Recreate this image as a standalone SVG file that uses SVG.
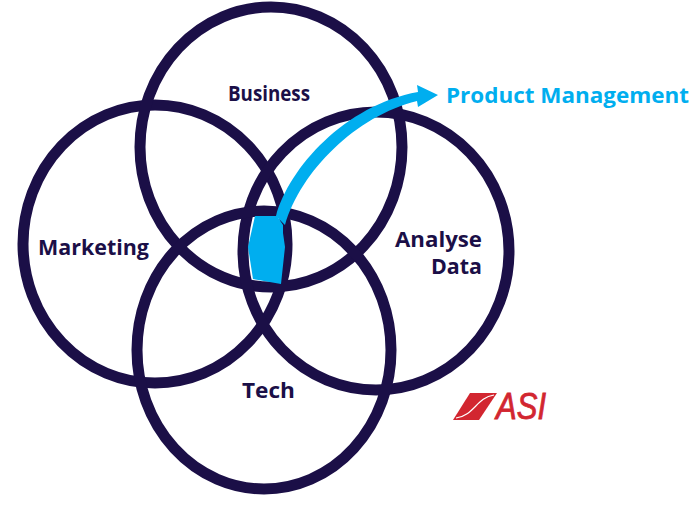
<svg xmlns="http://www.w3.org/2000/svg" width="700" height="508" viewBox="0 0 700 508">
<style>
.c{fill:none;stroke:#1b0f47;stroke-width:11}
.t{font-family:"Open Sans","Noto Sans",sans-serif;font-weight:700;font-size:21.5px;fill:#1b0f47}
.b{fill:#00aeef}
</style>
<rect width="700" height="508" fill="#fff"/>
<g id="marketing"><ellipse class="c" cx="155" cy="244" rx="132" ry="139"/><text class="t" x="38" y="255" textLength="111" lengthAdjust="spacingAndGlyphs">Marketing</text></g>
<g id="business"><ellipse class="c" cx="271" cy="147" rx="131" ry="140"/><text class="t" x="228" y="101" textLength="82" lengthAdjust="spacingAndGlyphs">Business</text></g>
<g id="analyse"><ellipse class="c" cx="376" cy="251" rx="133" ry="139"/><text class="t" x="395" y="247" textLength="87" lengthAdjust="spacingAndGlyphs">Analyse</text><text class="t" x="431" y="274" textLength="51" lengthAdjust="spacingAndGlyphs">Data</text></g>
<g id="tech"><ellipse class="c" cx="264" cy="350" rx="127" ry="139"/><text class="t" x="242" y="398" textLength="53" lengthAdjust="spacingAndGlyphs">Tech</text></g>
<g id="connectors">
<path class="b" d="M255 216L277 216L283 225L283 233L285 247L281 284L253 279L248 247Z"/>
<path class="b" d="M276 216C289 168 345 105 418 92L417 85L438 95L418 107L417 101C356 116 301 171 285 225Z"/>
</g>
<g id="product"><text x="446" y="103" textLength="243" lengthAdjust="spacingAndGlyphs" style="font-family:'Open Sans','Noto Sans',sans-serif;font-weight:700;font-size:22px;fill:#00aeef">Product Management</text></g>
<g id="logo">
<path d="M470 393H497L479 420H453Z" fill="#d22630"/>
<path d="M456 418C475 415 476 398 494 395" fill="none" stroke="#fff" stroke-width="1.2"/>
<text x="496" y="419" textLength="50" lengthAdjust="spacingAndGlyphs" style="font-family:'Liberation Sans',sans-serif;font-style:italic;font-size:36px;fill:#d22630;stroke:#d22630;stroke-width:.8">ASI</text>
</g>
</svg>
